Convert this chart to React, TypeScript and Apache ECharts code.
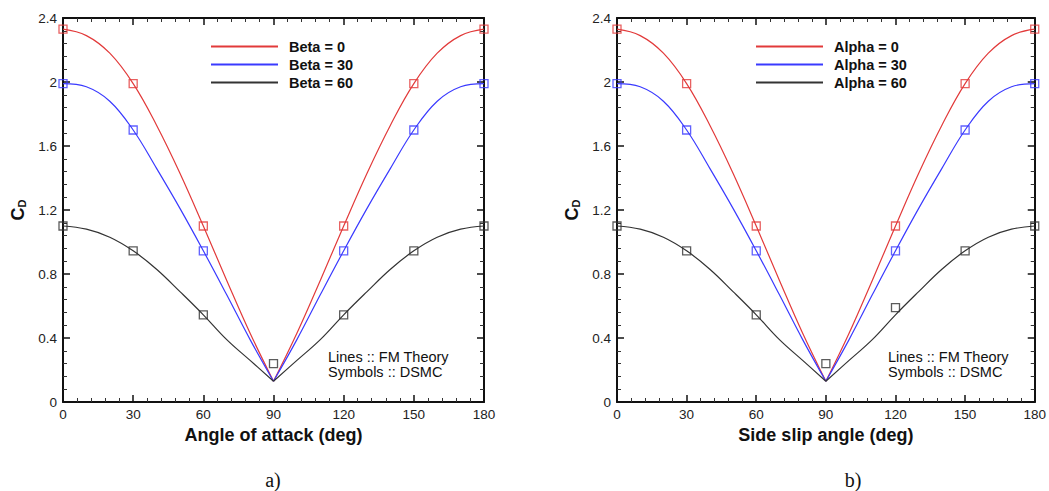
import React, { useEffect, useRef } from "react";
import * as echarts from "echarts";

// FM theory curves, sampled every 10 deg (0..180)
const fmAngles = [0, 10, 20, 30, 40, 50, 60, 70, 80, 90, 100, 110, 120, 130, 140, 150, 160, 170, 180];
const fm0 = [2.33, 2.29, 2.18, 1.99, 1.73, 1.43, 1.1, 0.76, 0.43, 0.13, 0.43, 0.76, 1.1, 1.43, 1.73, 1.99, 2.18, 2.29, 2.33];
const fm30 = [1.99, 1.97, 1.88, 1.7, 1.46, 1.21, 0.945, 0.67, 0.39, 0.13, 0.39, 0.67, 0.945, 1.21, 1.46, 1.7, 1.88, 1.97, 1.99];
const fm60 = [1.1, 1.08, 1.03, 0.945, 0.83, 0.69, 0.545, 0.39, 0.26, 0.13, 0.26, 0.39, 0.545, 0.69, 0.83, 0.945, 1.03, 1.08, 1.1];

// DSMC symbols
const dsmcAngles = [0, 30, 60, 90, 120, 150, 180];
const dsmc0 = [2.33, 1.99, 1.1, null, 1.1, 1.99, 2.33];
const dsmc30 = [1.99, 1.7, 0.945, null, 0.945, 1.7, 1.99];
const dsmc60A = [1.1, 0.945, 0.545, 0.24, 0.545, 0.945, 1.1];
const dsmc60B = [1.1, 0.945, 0.545, 0.24, 0.59, 0.945, 1.1];

const xTicks = [0, 30, 60, 90, 120, 150, 180];
const yTicks = [0, 0.4, 0.8, 1.2, 1.6, 2, 2.4];

const legendA = ["Beta = 0", "Beta = 30", "Beta = 60"];
const legendB = ["Alpha = 0", "Alpha = 30", "Alpha = 60"];
const xTitles = ["Angle of attack (deg)", "Side slip angle (deg)"];
const captions = ["a)", "b)"];

const COLORS = ["#e23a3a", "#3a3aff", "#333333"];
const FONT = "Liberation Sans, Arial, Helvetica, sans-serif";

export default function App() {
  const ref = useRef<HTMLDivElement>(null);
  useEffect(() => {
    if (!ref.current) return;
    const chart = echarts.init(ref.current, undefined, { renderer: "svg" });

    const grids = [
      { left: 63, top: 18, width: 421, height: 384 },
      { left: 617, top: 18, width: 421, height: 384 },
    ];

    const xAxes: any[] = [];
    const yAxes: any[] = [];
    grids.forEach((_, gi) => {
      const common = {
        gridIndex: gi,
        min: xTicks[0],
        max: xTicks[xTicks.length - 1],
        interval: 30,
        axisLine: { show: true, onZero: false, lineStyle: { color: "#111", width: 2 } },
        axisTick: { show: true, inside: true, length: 7, lineStyle: { color: "#111", width: 1.5 } },
        minorTick: { show: true, splitNumber: 5, length: 4, lineStyle: { color: "#333", width: 1 } },
        splitLine: { show: false },
      };
      xAxes.push({
        ...common,
        type: "value",
        position: "bottom",
        name: xTitles[gi],
        nameLocation: "middle",
        nameGap: 19,
        nameTextStyle: { fontFamily: FONT, fontSize: 18, fontWeight: "bold", color: "#111" },
        axisLabel: { fontFamily: FONT, fontSize: 13.5, color: "#222", margin: 5 },
      });
      xAxes.push({ ...common, type: "value", position: "top", axisLabel: { show: false } });
      const ycommon = {
        gridIndex: gi,
        min: yTicks[0],
        max: yTicks[yTicks.length - 1],
        interval: 0.4,
        axisLine: { show: true, onZero: false, lineStyle: { color: "#111", width: 2 } },
        axisTick: { show: true, inside: true, length: 7, lineStyle: { color: "#111", width: 1.5 } },
        minorTick: { show: true, splitNumber: 5, length: 4, lineStyle: { color: "#333", width: 1 } },
        splitLine: { show: false },
      };
      yAxes.push({
        ...ycommon,
        type: "value",
        position: "left",
        name: "{c|C}{d|D}",
        nameLocation: "middle",
        nameRotate: 90,
        nameGap: 36,
        nameTextStyle: {
          rich: {
            c: { fontFamily: FONT, fontSize: 18, fontWeight: "bold", color: "#111" },
            d: { fontFamily: FONT, fontSize: 11, fontWeight: "bold", color: "#111", verticalAlign: "bottom", padding: [7, 0, 0, 0] },
          },
        },
        axisLabel: {
          fontFamily: FONT,
          fontSize: 13.5,
          color: "#222",
          margin: 6,
          formatter: (v: number) => String(Math.round(v * 10) / 10),
        },
      });
      yAxes.push({ ...ycommon, type: "value", position: "right", axisLabel: { show: false } });
    });

    const fmSets = [fm0, fm30, fm60];
    const series: any[] = [];
    const mid = fmAngles.indexOf(90);
    [legendA, legendB].forEach((names, gi) => {
      fmSets.forEach((vals, si) => {
        const pts = fmAngles.map((a, i) => [a, vals[i]]);
        [pts.slice(0, mid + 1), pts.slice(mid)].forEach((half) => {
          series.push({
            type: "line",
            name: names[si],
            xAxisIndex: gi * 2,
            yAxisIndex: gi * 2,
            data: half,
            smooth: 0.4,
            showSymbol: false,
            symbol: "none",
            color: COLORS[si],
            lineStyle: { color: COLORS[si], width: 1.2 },
            z: 2,
          });
        });
      });
      const dsets = [dsmc0, dsmc30, gi === 0 ? dsmc60A : dsmc60B];
      dsets.forEach((vals, si) => {
        series.push({
          type: "scatter",
          name: "DSMC " + names[si],
          xAxisIndex: gi * 2,
          yAxisIndex: gi * 2,
          data: dsmcAngles.map((a, i) => [a, vals[i]]).filter((p) => p[1] !== null),
          symbol: "rect",
          symbolSize: 8,
          itemStyle: { color: "rgba(255,255,255,0)", borderColor: COLORS[si], borderWidth: 1.3 },
          z: 3 + si,
        });
      });
    });

    const mkLegend = (names: string[], left: number) => ({
      data: names,
      left,
      top: 39,
      orient: "vertical",
      icon: "rect",
      itemWidth: 67,
      itemHeight: 2,
      itemGap: 3,
      padding: 0,
      selectedMode: false,
      textStyle: { fontFamily: FONT, fontSize: 14.5, fontWeight: "bold", color: "#111", padding: [0, 0, 0, 6], lineHeight: 14 },
    });

    const note = (x: number) => ({
      type: "text",
      left: x,
      top: 349,
      style: {
        text: "Lines :: FM Theory\nSymbols :: DSMC",
        font: `14.5px ${FONT}`,
        fill: "#111",
        lineHeight: 15,
      },
    });

    const caption = (x: number, t: string) => ({
      type: "text",
      x,
      y: 480,
      style: {
        text: t,
        font: `20px "Liberation Serif", "Times New Roman", serif`,
        fill: "#111",
        textAlign: "center",
        textVerticalAlign: "middle",
      },
    });

    chart.setOption({
      animation: false,
      backgroundColor: "#ffffff",
      grid: grids,
      xAxis: xAxes,
      yAxis: yAxes,
      legend: [mkLegend(legendA, 211), mkLegend(legendB, 756)],
      series,
      graphic: [note(328), note(888), caption(273, captions[0]), caption(853, captions[1])],
    });

    return () => chart.dispose();
  }, []);

  return (
    <div
      ref={ref}
      style={{ position: "fixed", left: 0, top: 0, width: 1049, height: 491, background: "#fff" }}
    />
  );
}
